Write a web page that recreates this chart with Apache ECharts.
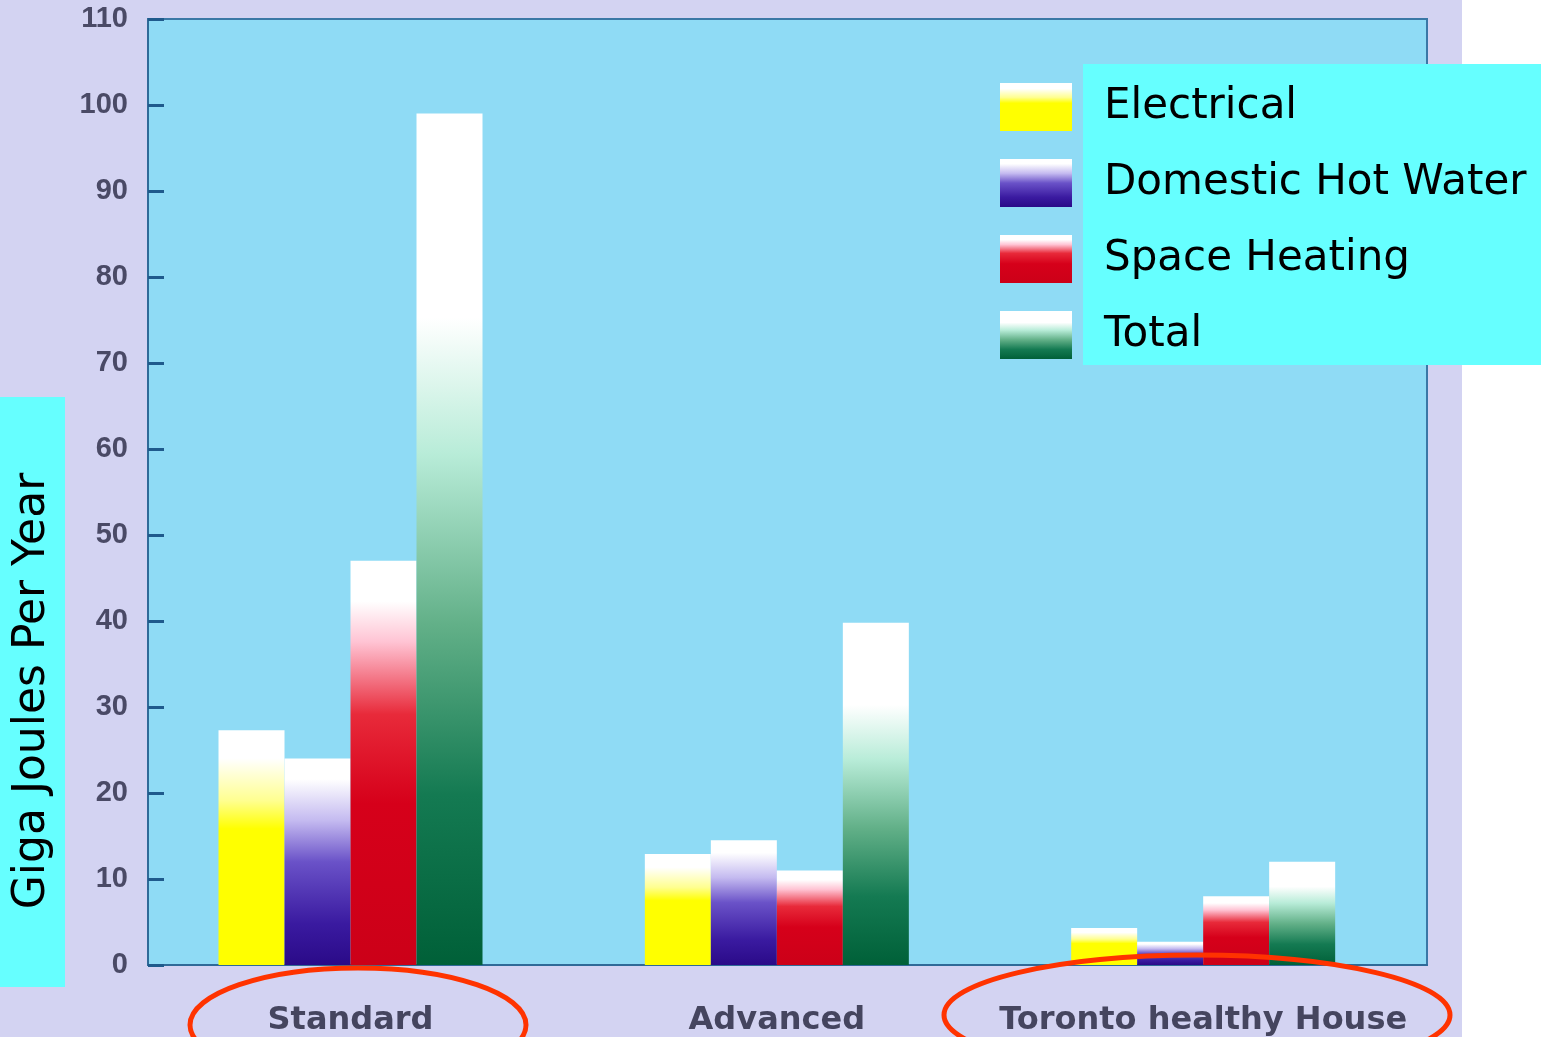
<!DOCTYPE html>
<html>
<head>
<meta charset="utf-8">
<script src="https://cdn.jsdelivr.net/npm/echarts@6/dist/echarts.min.js"></script>
<style>
  html, body { margin: 0; padding: 0; background: #d4d4f2; }
  #chart { width: 1541px; height: 1037px; }
</style>
</head>
<body>
<div id="chart"></div>
<script>
// data
const categories = ['Standard', 'Advanced', 'Toronto healthy House']
const electrical = [27.3, 12.9, 4.3]
const hotWater = [24, 14.5, 2.7]
const spaceHeating = [47, 11, 8]
const total = [99, 39.8, 12]
const yTicks = [0, 110, 10] // min, max, step

// groups are not evenly spread in the photo, so x is a value axis
// with the categories placed at 0, 1, 2
const pos = categories.map((c, i) => i)
const pairs = arr => arr.map((v, i) => [pos[i], v])

// vertical fade: white at the top of each bar into the colour
function fade(stops) {
  return new echarts.graphic.LinearGradient(0, 0, 0, 1, stops.map(s => ({ offset: s[0], color: s[1] })))
}

const chart = echarts.init(document.getElementById('chart'))

chart.setOption({
  backgroundColor: '#d3d3f2',
  animation: false,
  grid: {
    left: 148,
    right: 114,
    top: 19,
    bottom: 71,
    show: true,
    backgroundColor: '#8fdbf5',
    borderColor: '#3a78a6',
    borderWidth: 2
  },
  legend: {
    orient: 'vertical',
    left: 995,
    top: 78,
    itemWidth: 72,
    itemHeight: 48,
    itemGap: 28,
    icon: 'rect',
    textStyle: {
      fontFamily: 'DejaVu Sans',
      fontSize: 42,
      color: '#000',
      padding: [0, 0, 0, 27]
    },
    data: ['Electrical', 'Domestic Hot Water', 'Space Heating', 'Total']
  },
  xAxis: {
    type: 'value',
    min: -0.475,
    max: 2.525,
    splitLine: { show: false },
    axisTick: { show: false },
    axisLine: { onZero: false, lineStyle: { color: '#2f6a98', width: 2 } },
    axisLabel: {
      customValues: pos,
      formatter: v => categories[Math.round(v)],
      margin: 40,
      color: '#45455f',
      fontFamily: 'DejaVu Sans',
      fontWeight: 'bold',
      fontSize: 32
    }
  },
  yAxis: {
    type: 'value',
    min: yTicks[0],
    max: yTicks[1],
    interval: yTicks[2],
    splitLine: { show: false },
    axisLine: { show: true, onZero: false, lineStyle: { color: '#2f6a98', width: 2 } },
    axisTick: { show: true, inside: true, length: 16, lineStyle: { color: '#1f5a8c', width: 3 } },
    axisLabel: {
      margin: 20,
      color: '#4a4a66',
      fontFamily: 'Liberation Sans',
      fontWeight: 'bold',
      fontSize: 29
    }
  },
  series: [
    {
      name: 'Electrical',
      type: 'bar',
      barWidth: 66,
      barGap: '0%',
      itemStyle: { color: fade([[0, '#ffffff'], [0.12, '#ffffff'], [0.3, '#ffff90'], [0.42, '#ffff00'], [1, '#ffff00']]) },
      data: pairs(electrical)
    },
    {
      name: 'Domestic Hot Water',
      type: 'bar',
      barWidth: 66,
      barGap: '0%',
      itemStyle: { color: fade([[0, '#ffffff'], [0.1, '#ffffff'], [0.3, '#c4baf0'], [0.5, '#6a52c8'], [0.8, '#3a1aa0'], [1, '#2a0a88']]) },
      data: pairs(hotWater)
    },
    {
      name: 'Space Heating',
      type: 'bar',
      barWidth: 66,
      barGap: '0%',
      itemStyle: { color: fade([[0, '#ffffff'], [0.1, '#ffffff'], [0.2, '#ffc4d4'], [0.38, '#e82a3a'], [0.6, '#d6001a'], [1, '#cc0018']]) },
      data: pairs(spaceHeating)
    },
    {
      name: 'Total',
      type: 'bar',
      barWidth: 66,
      barGap: '0%',
      itemStyle: { color: fade([[0, '#ffffff'], [0.24, '#ffffff'], [0.4, '#b8ecd8'], [0.6, '#62b088'], [0.8, '#147a52'], [1, '#006038']]) },
      data: pairs(total)
    }
  ],
  graphic: [
    { type: 'rect', z: 0, shape: { x: 1462, y: 0, width: 79, height: 1037 }, style: { fill: '#ffffff' } },
    { type: 'rect', z: 0, shape: { x: 1083, y: 64, width: 458, height: 301 }, style: { fill: '#66ffff' } },
    { type: 'rect', z: 0, shape: { x: 0, y: 397, width: 65, height: 590 }, style: { fill: '#66ffff' } },
    {
      type: 'text',
      z: 10,
      x: 33,
      y: 691,
      rotation: Math.PI / 2,
      style: {
        text: 'Giga Joules Per Year',
        fontFamily: 'DejaVu Sans',
        fontSize: 44,
        fill: '#000',
        align: 'center',
        verticalAlign: 'middle'
      }
    },
    {
      type: 'ellipse',
      z: 20,
      shape: { cx: 358, cy: 1025, rx: 168, ry: 57 },
      style: { fill: 'none', stroke: '#ff3300', lineWidth: 5 }
    },
    {
      type: 'ellipse',
      z: 20,
      shape: { cx: 1197, cy: 1015, rx: 253, ry: 60 },
      style: { fill: 'none', stroke: '#ff3300', lineWidth: 5 }
    }
  ]
})
</script>
</body>
</html>
